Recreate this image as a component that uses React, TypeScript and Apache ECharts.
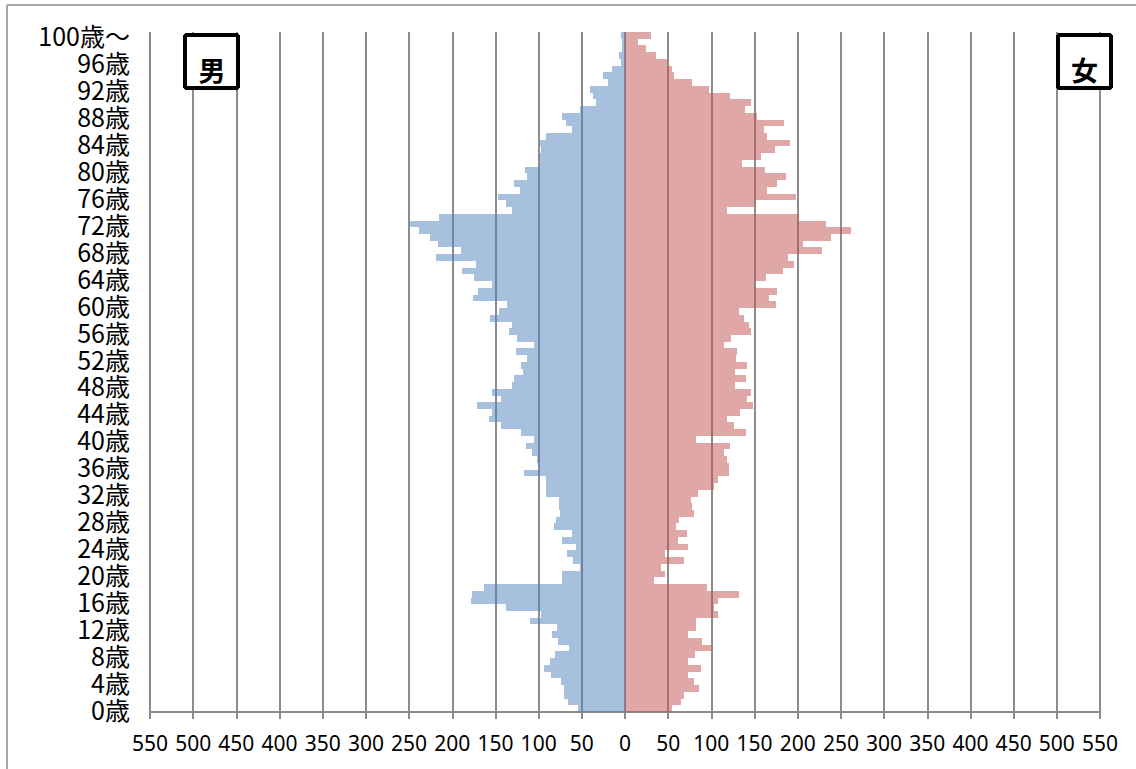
import React, { useEffect, useRef } from "react";
import * as echarts from "echarts";

// Age categories, 0歳 ... 99歳, 100歳〜 (bottom to top)
const ages: string[] = Array.from({ length: 101 }, (_, i) => (i === 100 ? "100歳〜" : `${i}歳`));

// Male population by age (ages 0..100)
const male0to24 = [55, 66, 71, 71, 74, 86, 94, 87, 81, 65, 78, 85, 79, 110, 97, 138, 178, 177, 163, 73, 73, 52, 60, 67, 57];
const male25to49 = [73, 61, 82, 80, 75, 76, 77, 92, 92, 91, 117, 100, 102, 108, 115, 105, 120, 144, 157, 154, 171, 144, 154, 131, 129];
const male50to74 = [118, 121, 113, 126, 105, 125, 134, 131, 156, 146, 137, 176, 170, 154, 175, 189, 173, 219, 190, 217, 226, 238, 249, 215, 131];
const male75to100 = [138, 147, 122, 129, 113, 116, 98, 98, 97, 99, 91, 61, 68, 73, 52, 34, 37, 40, 20, 25, 15, 5, 7, 4, 3, 5];

// Female population by age (ages 0..100)
const female0to24 = [54, 65, 68, 86, 80, 73, 88, 73, 81, 100, 89, 73, 82, 82, 108, 103, 108, 132, 95, 34, 46, 42, 68, 46, 73];
const female25to49 = [61, 72, 59, 62, 80, 78, 76, 85, 103, 108, 120, 120, 118, 115, 121, 82, 140, 126, 118, 133, 148, 141, 146, 127, 140];
const female50to74 = [127, 141, 128, 130, 115, 123, 146, 144, 138, 132, 175, 167, 176, 151, 163, 183, 196, 189, 228, 206, 238, 262, 233, 202, 118];
const female75to100 = [150, 198, 164, 176, 186, 162, 135, 157, 174, 191, 164, 161, 184, 153, 139, 146, 122, 97, 78, 57, 54, 49, 36, 24, 15, 30];

const maleValues = [...male0to24, ...male25to49, ...male50to74, ...male75to100];
const femaleValues = [...female0to24, ...female25to49, ...female50to74, ...female75to100];

const GRID_COLOR = "#8c8c8c";

export default function App() {
  const ref = useRef<HTMLDivElement>(null);

  useEffect(() => {
    if (!ref.current) return;
    const chart = echarts.init(ref.current, undefined, { renderer: "svg" });
    chart.setOption({
      animation: false,
      backgroundColor: "#ffffff",
      grid: { left: 150, right: 36, top: 32, height: 680, containLabel: false },
      xAxis: {
        type: "value",
        min: -550,
        max: 550,
        interval: 50,
        axisLine: { show: true, lineStyle: { color: GRID_COLOR, width: 2 } },
        axisTick: { show: true, length: 7, lineStyle: { color: GRID_COLOR, width: 2 } },
        splitLine: { show: true, lineStyle: { color: GRID_COLOR, width: 2 } },
        axisLabel: {
          formatter: (v: number) => String(Math.abs(v)),
          color: "#000",
          fontSize: 21,
          fontFamily: "'Noto Sans', 'DejaVu Sans', sans-serif",
          margin: 20,
          hideOverlap: false,
        },
      },
      yAxis: {
        type: "category",
        data: ages,
        position: "left",
        axisLine: { show: false },
        axisTick: { show: false },
        splitLine: { show: false },
        axisLabel: {
          interval: 3,
          color: "#000",
          fontSize: 25,
          lineHeight: 25,
          fontFamily: "'Noto Sans CJK JP', 'Noto Sans', sans-serif",
          margin: 20,
        },
      },
      series: [
        {
          name: "男",
          type: "bar",
          data: maleValues.map((v) => -v),
          barCategoryGap: "0%",
          barGap: "-100%",
          itemStyle: { color: "rgba(79,129,189,0.5)" },
        },
        {
          name: "女",
          type: "bar",
          data: femaleValues,
          barCategoryGap: "0%",
          barGap: "-100%",
          itemStyle: { color: "rgba(192,80,77,0.5)" },
        },
      ],
      graphic: [
        { type: "line", shape: { x1: 7, y1: 5, x2: 1136, y2: 5 }, style: { stroke: "#a6a6a6", lineWidth: 2 } },
        { type: "line", shape: { x1: 7, y1: 5, x2: 7, y2: 769 }, style: { stroke: "#a6a6a6", lineWidth: 2 } },
        {
          type: "rect",
          shape: { x: 185, y: 35, width: 53, height: 53, r: 2 },
          style: { fill: "#fff", stroke: "#000", lineWidth: 4 },
          z: 100,
        },
        {
          type: "text",
          x: 212,
          y: 69,
          style: {
            text: "男",
            fontSize: 27,
            fontWeight: "bold",
            fontFamily: "'Noto Sans CJK JP', sans-serif",
            fill: "#000",
            align: "center",
            verticalAlign: "middle",
          },
          z: 101,
        },
        {
          type: "rect",
          shape: { x: 1058, y: 35, width: 53, height: 53, r: 2 },
          style: { fill: "#fff", stroke: "#000", lineWidth: 4 },
          z: 100,
        },
        {
          type: "text",
          x: 1084.5,
          y: 69,
          style: {
            text: "女",
            fontSize: 27,
            fontWeight: "bold",
            fontFamily: "'Noto Sans CJK JP', sans-serif",
            fill: "#000",
            align: "center",
            verticalAlign: "middle",
          },
          z: 101,
        },
      ],
    });
    return () => chart.dispose();
  }, []);

  return (
    <>
      <style>{".pyramid svg path { shape-rendering: crispEdges; }"}</style>
      <div
        ref={ref}
        className="pyramid"
        style={{ position: "fixed", left: 0, top: 0, width: 1136, height: 769 }}
      />
    </>
  );
}
